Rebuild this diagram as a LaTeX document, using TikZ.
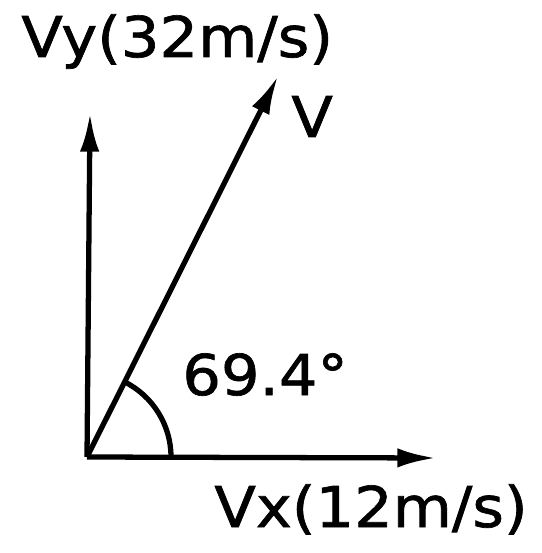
\documentclass[tikz,border=0pt]{standalone}
\usepackage{fontspec}
\newfontfamily\lblfont[FakeStretch=1.08,FakeBold=1.2]{DejaVu Sans}
\usetikzlibrary{arrows.meta,calc}

\begin{document}
\begin{tikzpicture}[x=0.02cm,y=-0.02cm,
  vec/.style={line width=3pt,-{Latex[length=22pt,width=11pt]}},
  lbl/.style={inner sep=0pt,font=\lblfont\fontsize{32}{38}\selectfont}]
\useasboundingbox (0,0) rectangle (541,553);
\coordinate (O) at (87,457);
\coordinate (vy) at (90,113);
\coordinate (vx) at (436,458);
\coordinate (v) at (278,76);
% components and resultant
\draw[vec] (O) -- (vy);
\draw[vec] (O) -- (vx);
\draw[vec] (O) -- (v);
% angle
\draw[line width=3pt] ($(O)+(84,0)$) arc[start angle=0,end angle=-63.4,x radius=84,y radius=84];
\node[lbl,anchor=base west] (vylbl) at (21,57) {Vy(32m/s)};
\node[lbl,anchor=base west] (vlbl) at (291,137) {V};
\node[lbl,anchor=base west] (anglbl) at (182,395) {69.4°};
\node[lbl,anchor=base west] (vxlbl) at (214,527) {Vx(12m/s)};
\end{tikzpicture}
\end{document}
